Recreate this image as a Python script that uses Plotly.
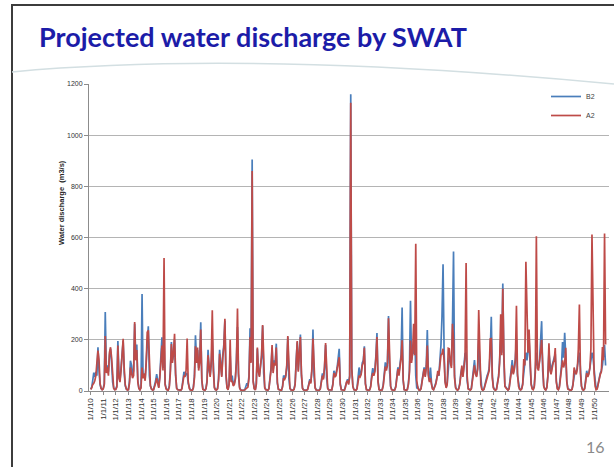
import pandas as pd
import plotly.graph_objects as go

# Simulated monthly discharge (m3/s) at the outlet, Jan..Dec for each year 2010-2050
B2 = [
    8, 15, 40, 72, 55, 75, 60, 171, 80, 25, 10, 6,        # 2010
    10, 30, 309, 90, 100, 75, 140, 165, 110, 35, 12, 6,   # 2011
    8, 20, 195, 60, 40, 90, 120, 195, 70, 20, 8, 5,       # 2012
    6, 40, 118, 100, 60, 80, 263, 140, 182, 40, 10, 5,    # 2013
    15, 379, 60, 68, 45, 120, 180, 253, 60, 20, 8, 5,     # 2014
    6, 20, 40, 66, 30, 15, 60, 130, 210, 90, 200, 30,     # 2015
    10, 5, 4, 20, 80, 191, 120, 140, 200, 60, 12, 6,      # 2016
    5, 4, 3, 10, 40, 75, 60, 65, 70, 30, 10, 5,           # 2017
    4, 3, 15, 60, 218, 120, 160, 90, 120, 269, 40, 8,     # 2018
    5, 4, 10, 40, 161, 80, 60, 100, 200, 70, 15, 6,       # 2019
    5, 10, 50, 161, 100, 60, 140, 180, 275, 60, 15, 6,    # 2020
    30, 140, 40, 60, 25, 30, 50, 120, 250, 60, 15, 5,     # 2021
    4, 3, 3, 5, 15, 30, 20, 60, 245, 120, 905, 40,        # 2022
    10, 5, 30, 165, 80, 60, 100, 130, 255, 70, 15, 6,     # 2023
    5, 4, 10, 40, 90, 170, 80, 120, 110, 185, 30, 8,      # 2024
    4, 3, 3, 20, 60, 55, 60, 90, 210, 50, 12, 5,          # 2025
    4, 3, 8, 30, 120, 190, 80, 140, 221, 60, 12, 5,       # 2026
    4, 3, 3, 8, 25, 46, 35, 80, 240, 60, 15, 5,           # 2027
    4, 3, 3, 10, 40, 69, 50, 90, 180, 50, 12, 5,          # 2028
    4, 3, 5, 30, 79, 60, 70, 90, 120, 165, 30, 6,         # 2029
    5, 3, 4, 20, 40, 46, 30, 60, 1160, 90, 20, 6,         # 2030
    4, 3, 10, 50, 92, 60, 70, 110, 120, 175, 30, 6,       # 2031
    4, 3, 5, 20, 60, 89, 70, 80, 140, 227, 40, 6,         # 2032
    4, 3, 5, 25, 80, 112, 90, 110, 293, 80, 20, 6,        # 2033
    4, 3, 5, 20, 60, 92, 70, 100, 140, 326, 40, 6,        # 2034
    4, 3, 6, 30, 80, 353, 120, 145, 150, 260, 60, 10,     # 2035
    15, 5, 4, 10, 40, 70, 92, 60, 100, 238, 70, 40,       # 2036
    92, 30, 10, 6, 15, 30, 50, 66, 60, 120, 180, 290,     # 2037
    495, 150, 40, 15, 30, 80, 139, 120, 100, 250, 545, 60,  # 2038
    15, 6, 4, 10, 30, 70, 90, 60, 100, 145, 150, 40,      # 2039
    10, 5, 4, 10, 40, 80, 121, 70, 60, 90, 200, 100,      # 2040
    30, 8, 4, 8, 25, 50, 60, 70, 90, 150, 290, 60,        # 2041
    15, 6, 4, 8, 30, 60, 120, 200, 150, 420, 120, 20,     # 2042
    15, 6, 4, 10, 40, 80, 121, 70, 90, 130, 200, 60,      # 2043
    20, 8, 5, 10, 30, 80, 125, 150, 120, 180, 200, 100,   # 2044
    30, 10, 6, 20, 80, 150, 100, 90, 120, 210, 273, 80,   # 2045
    20, 8, 5, 15, 60, 150, 90, 70, 100, 120, 130, 145,    # 2046
    40, 10, 6, 20, 60, 100, 191, 130, 228, 110, 40, 10,   # 2047
    6, 4, 3, 8, 30, 60, 80, 70, 90, 120, 150, 60,         # 2048
    20, 6, 4, 10, 40, 79, 60, 70, 90, 120, 150, 130,      # 2049
    80, 20, 6, 10, 30, 60, 70, 80, 100, 140, 180, 100,    # 2050
]

A2 = [
    6, 12, 25, 30, 40, 60, 110, 158, 120, 30, 10, 5,      # 2010
    8, 25, 215, 70, 92, 60, 150, 171, 130, 40, 10, 5,     # 2011
    6, 15, 178, 50, 35, 80, 150, 204, 90, 25, 8, 4,       # 2012
    5, 30, 92, 70, 50, 60, 270, 120, 160, 35, 10, 4,      # 2013
    12, 92, 50, 68, 40, 110, 230, 237, 70, 20, 8, 4,      # 2014
    5, 15, 30, 50, 25, 12, 50, 110, 178, 80, 520, 25,     # 2015
    8, 4, 3, 15, 70, 184, 110, 150, 224, 70, 10, 5,       # 2016
    4, 3, 3, 8, 35, 60, 55, 80, 205, 40, 10, 4,           # 2017
    3, 3, 12, 50, 175, 110, 170, 80, 110, 240, 45, 6,     # 2018
    4, 3, 8, 35, 140, 75, 55, 120, 316, 80, 12, 5,        # 2019
    4, 8, 40, 145, 90, 55, 130, 170, 282, 70, 12, 5,      # 2020
    25, 200, 35, 40, 20, 25, 45, 110, 322, 70, 12, 4,     # 2021
    3, 3, 2, 4, 8, 10, 15, 50, 210, 110, 860, 35,         # 2022
    8, 4, 25, 170, 75, 55, 90, 140, 258, 80, 12, 5,       # 2023
    4, 3, 8, 35, 80, 180, 70, 110, 100, 170, 35, 6,       # 2024
    3, 3, 3, 15, 50, 45, 55, 100, 215, 60, 10, 4,         # 2025
    3, 3, 6, 25, 110, 195, 75, 130, 211, 70, 10, 4,       # 2026
    3, 3, 3, 6, 20, 40, 30, 90, 205, 70, 12, 4,           # 2027
    3, 3, 3, 8, 35, 60, 45, 95, 187, 55, 10, 4,           # 2028
    3, 3, 4, 25, 70, 55, 60, 85, 110, 132, 25, 5,         # 2029
    4, 3, 3, 15, 35, 40, 25, 55, 1127, 85, 18, 5,         # 2030
    3, 3, 8, 40, 60, 55, 65, 100, 110, 169, 28, 5,        # 2031
    3, 3, 4, 15, 50, 70, 60, 75, 130, 211, 35, 5,         # 2032
    3, 3, 4, 20, 70, 95, 80, 100, 284, 90, 18, 5,         # 2033
    3, 3, 4, 15, 50, 86, 60, 90, 130, 198, 45, 5,         # 2034
    3, 3, 5, 25, 70, 197, 110, 150, 263, 140, 576, 40,    # 2035
    12, 4, 3, 8, 35, 60, 86, 55, 90, 178, 60, 35,         # 2036
    50, 25, 8, 5, 12, 25, 45, 79, 60, 100, 140, 145,      # 2037
    165, 120, 35, 12, 25, 167, 165, 110, 90, 263, 200, 50,  # 2038
    12, 5, 3, 8, 25, 60, 99, 55, 90, 130, 500, 60,        # 2039
    8, 4, 3, 8, 35, 70, 100, 65, 55, 85, 317, 171,        # 2040
    25, 6, 3, 6, 20, 45, 55, 65, 80, 204, 205, 50,        # 2041
    12, 5, 3, 6, 25, 55, 110, 300, 140, 400, 145, 18,     # 2042
    12, 5, 3, 8, 35, 70, 100, 65, 85, 120, 333, 70,       # 2043
    18, 6, 4, 8, 25, 125, 100, 505, 237, 150, 240, 90,    # 2044
    25, 8, 5, 15, 70, 605, 90, 80, 110, 151, 200, 70,     # 2045
    18, 6, 4, 12, 55, 187, 80, 65, 90, 110, 120, 168,     # 2046
    35, 8, 5, 15, 50, 90, 120, 92, 110, 169, 35, 8,       # 2047
    5, 3, 3, 6, 25, 92, 75, 65, 85, 164, 338, 70,         # 2048
    18, 5, 3, 8, 35, 70, 55, 65, 90, 164, 612, 303,       # 2049
    70, 18, 5, 8, 25, 55, 65, 75, 172, 120, 616, 182,     # 2050
]

YEARS = list(range(2010, 2051))
TICK_LABELS = [f"1/1/{y % 100:02d}" for y in YEARS]

START = "2010-01-01"
dates = pd.date_range(START, periods=len(B2), freq="MS")
tick_dates = [pd.Timestamp(year=y, month=1, day=1) for y in YEARS]

TITLE = "Projected water discharge by SWAT"
Y_TITLE = "Water discharge  (m3/s)"
PAGE_NO = "16"

W, H = 614, 467
# plot-area box in pixels
L, R, T, B = 89, 609, 84, 391


def px(x):
    return (x - L) / (R - L)


def py(y):
    return (B - y) / (B - T)


fig = go.Figure()
fig.add_trace(go.Scatter(x=dates, y=B2, name="B2", mode="lines",
                         line=dict(color="#4A7EBB", width=1.7)))
fig.add_trace(go.Scatter(x=dates, y=A2, name="A2", mode="lines",
                         line=dict(color="#BE4B48", width=1.7)))

small = "Liberation Sans, Arial, sans-serif"

fig.update_layout(
    width=W, height=H,
    margin=dict(l=L, r=W - R, t=T, b=H - B),
    paper_bgcolor="white", plot_bgcolor="white",
    showlegend=True,
    legend=dict(x=px(546), y=py(82), xanchor="left", yanchor="top",
                font=dict(family=small, size=7, color="#404040"),
                bgcolor="rgba(0,0,0,0)", itemwidth=30, tracegroupgap=0),
    xaxis=dict(
        type="date",
        range=["2009-11-14", "2051-03-10"],
        tickmode="array", tickvals=tick_dates, ticktext=TICK_LABELS,
        tickangle=-90, tickfont=dict(family=small, size=8, color="#333333"),
        showgrid=False, showline=True, linecolor="#8c8c8c", linewidth=1,
        ticks="outside", ticklen=3, tickcolor="#8c8c8c",
        zeroline=False,
    ),
    yaxis=dict(
        range=[0, 1200], dtick=200,
        tickfont=dict(family=small, size=7, color="#333333"),
        showgrid=True, gridcolor="#b4b4b4", gridwidth=1,
        showline=True, linecolor="#8c8c8c", linewidth=1,
        ticks="outside", ticklen=4, tickcolor="#8c8c8c",
        zeroline=False,
    ),
)

# slide frame (left and top edges)
fig.add_shape(type="path", xref="paper", yref="paper",
              path=f"M {px(12)},{py(467)} L {px(12)},{py(5)} L {px(614)},{py(5)}",
              line=dict(color="#3c3c3c", width=2))

# decorative arc under the heading
fig.add_shape(type="path", xref="paper", yref="paper",
              path=f"M {px(12)},{py(72)} Q {px(250)},{py(50)} {px(614)},{py(84)}",
              line=dict(color="#d3dfe2", width=1.5))

fig.add_annotation(text="<b>" + TITLE + "</b>", xref="paper", yref="paper",
                   x=px(37), y=py(37), xanchor="left", yanchor="middle", showarrow=False,
                   font=dict(family="Lato, Open Sans, sans-serif", size=27, color="#1C1CA8"))

# vertical axis caption
fig.add_annotation(text="<b>" + Y_TITLE + "</b>", xref="paper", yref="paper",
                   x=px(61), y=py(203), xanchor="center", yanchor="middle", showarrow=False,
                   textangle=-90, font=dict(family=small, size=7.5, color="#262626"))

fig.add_annotation(text=PAGE_NO, xref="paper", yref="paper",
                   x=px(595), y=py(446), xanchor="center", yanchor="middle", showarrow=False,
                   font=dict(family="Lato, Open Sans, sans-serif", size=16, color="#8a8a8a"))

fig.write_html("out.html", config=dict(displayModeBar=False))
